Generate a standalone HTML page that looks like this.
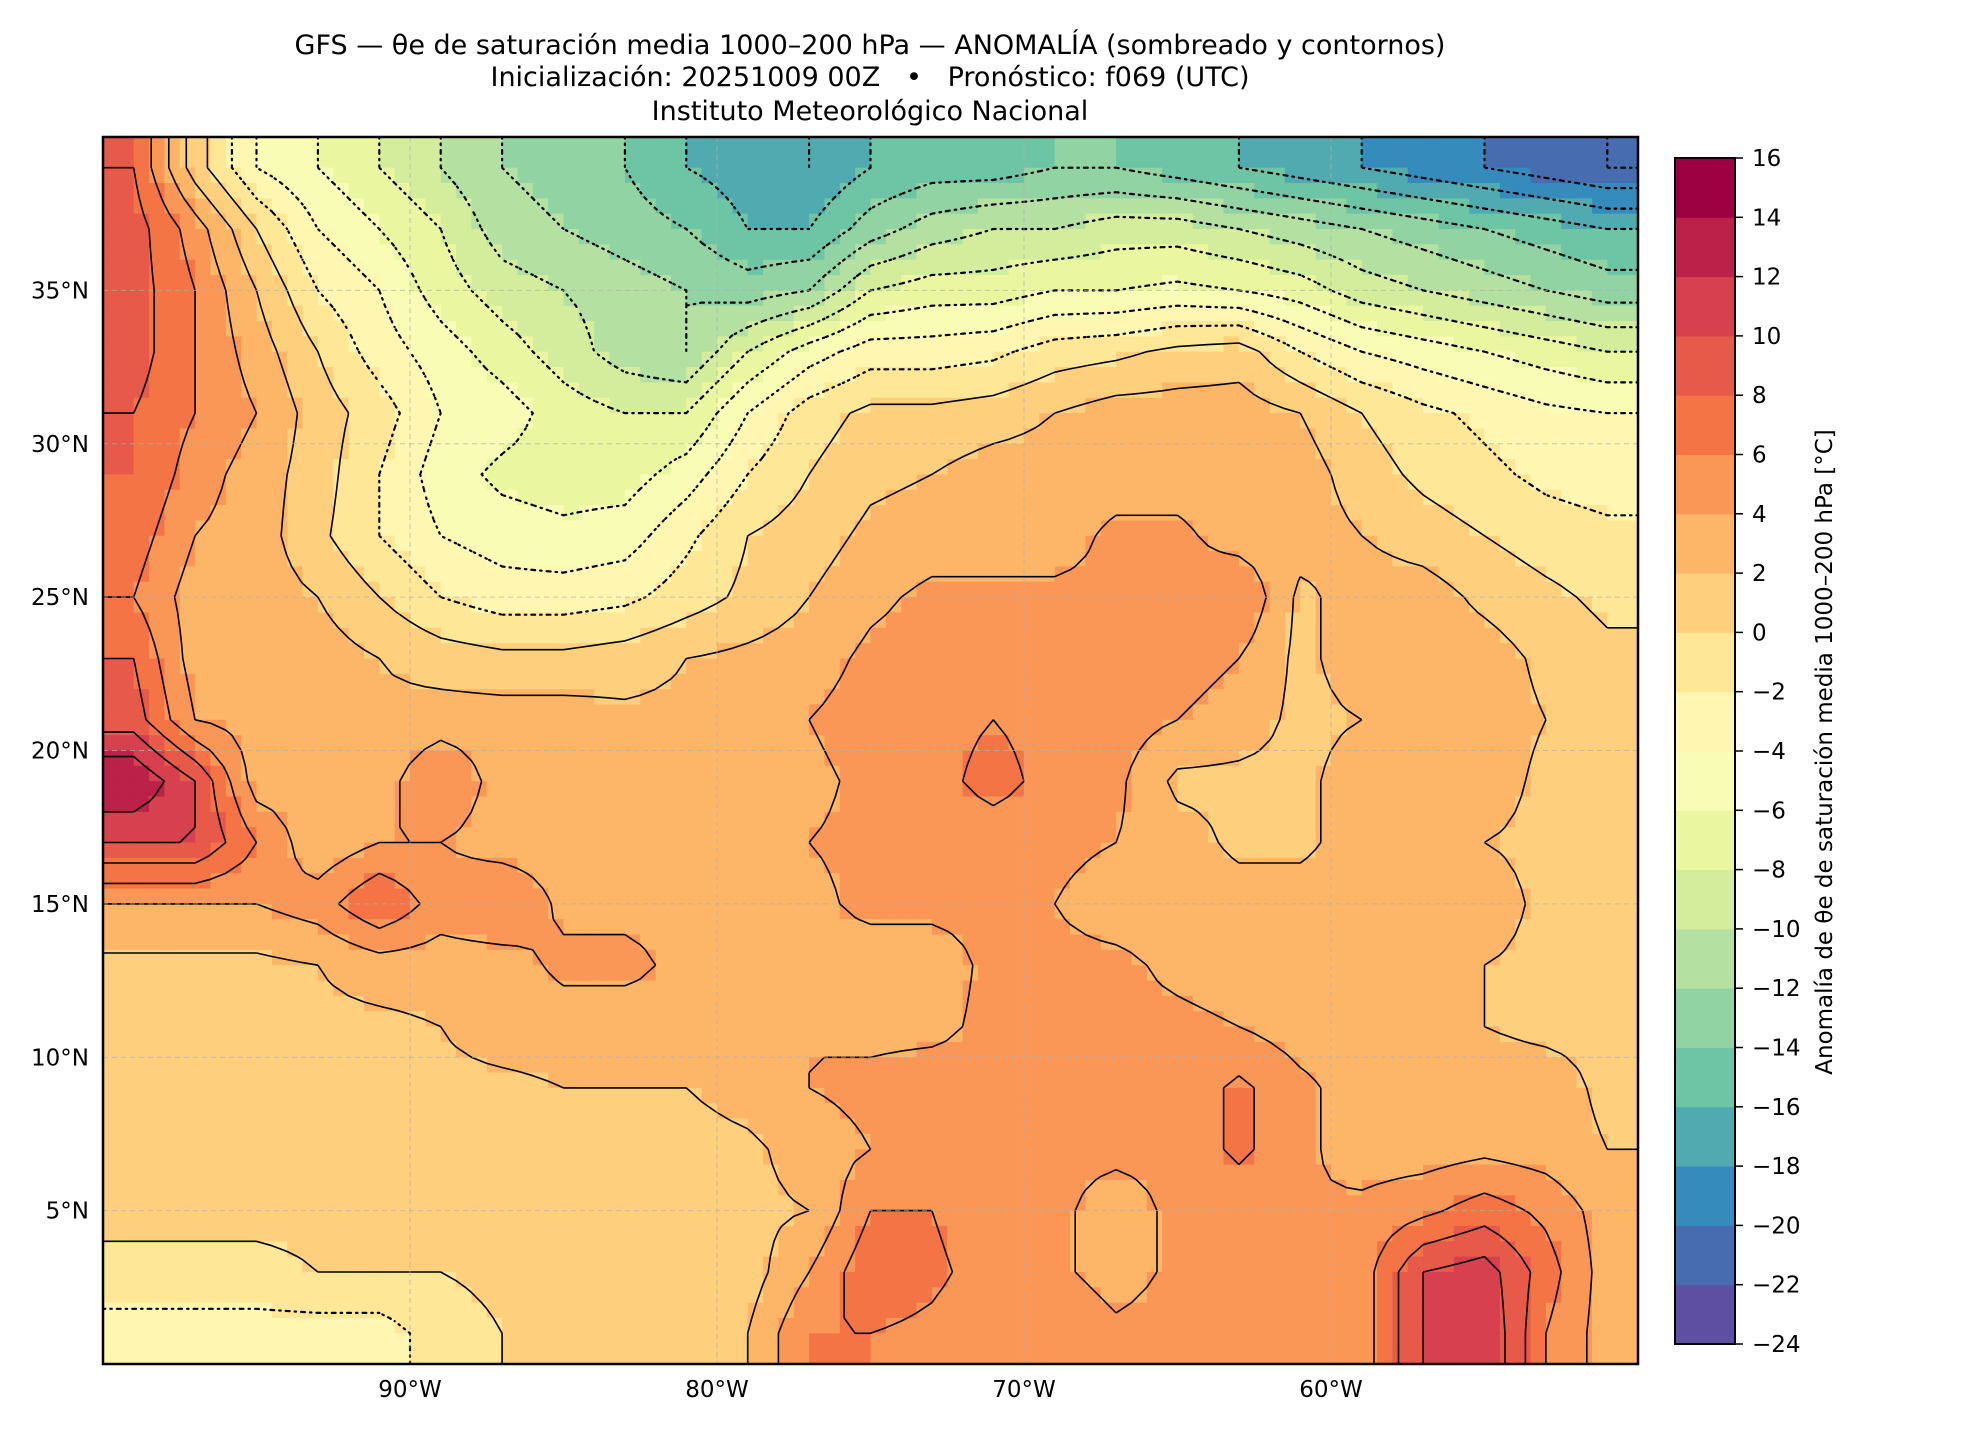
<!DOCTYPE html>
<html><head><meta charset="utf-8">
<style>
html,body{margin:0;padding:0;background:#fff;}
svg{display:block;font-family:"DejaVu Sans","Liberation Sans",sans-serif;}
</style></head>
<body>
<svg id="chart" width="1980" height="1440" viewBox="0 0 1980 1440" xmlns="http://www.w3.org/2000/svg">
  <defs><clipPath id="mapclip"><rect x="103" y="137" width="1535" height="1227"/></clipPath></defs>
  <g font-size="27" text-anchor="middle" fill="#000">
    <text x="870" y="54">GFS — θe de saturación media 1000–200 hPa — ANOMALÍA (sombreado y contornos)</text>
    <text x="870" y="86">Inicialización: 20251009 00Z &#160; • &#160; Pronóstico: f069 (UTC)</text>
    <text x="870" y="120">Instituto Meteorológico Nacional</text>
  </g>
  <g id="field"></g>
  <g id="contours" clip-path="url(#mapclip)"></g>
  <g id="grid"></g>
  <rect x="103" y="137" width="1535" height="1227" fill="none" stroke="#000" stroke-width="2.5"/>
  <g id="axes" font-size="23" fill="#000"></g>
  <g id="cbar"></g>
  <text x="0" y="0" transform="translate(1832,752) rotate(-90)" text-anchor="middle" font-size="23">Anomalía de θe de saturación media 1000–200 hPa [°C]</text>
</svg>
<script>
// ---- data (2° grid, cell centres) ----
const lons = [-99,-97,-95,-93,-91,-89,-87,-85,-83,-81,-79,-77,-75,-73,-71,-69,-67,-65,-63,-61,-59,-57,-55,-53,-51];
const lats = [39,37,35,33,31,29,27,25,23,21,19,17,15,13,11,9,7,5,3,1];
const row39 = [8,1,-4,-6,-8,-10,-12,-13,-14,-16,-17,-18,-16,-15,-15,-14,-14,-15,-16,-17,-18,-19,-20,-21,-22];
const row37 = [9,5,0,-4,-6,-8,-11,-12,-13,-14,-16,-16,-13,-11,-10,-10,-9,-9,-10,-11,-12,-13,-14,-15,-16];
const row35 = [9,6,2,-2,-4,-7,-9,-10,-11,-12,-13,-12,-8,-7,-7,-6,-6,-5.5,-6,-7,-9,-10,-11,-12,-13];
const row33 = [9,6,3,0,-3,-5,-7,-9,-11,-12,-8,-5,-3,-3,-2.5,-1,-0.5,0.5,1,-2,-4,-5,-6,-7,-8];
const row31 = [8,6,4,1,-1,-4,-5,-7,-8,-8,-4,-1,0.5,0.5,1,2,3,3,3,2,0,-1.5,-2.5,-3.5,-4];
const row29 = [8,5,3,1,-2,-5,-6.5,-7,-7,-5,-2,0,1.5,2,3,3,3,3,3,3,1,-0.5,-1.5,-2.5,-3];
const row27 = [7,4,3,0.5,-2,-4,-5,-5.5,-5,-2.5,0,1,2.5,3,3,3,4.5,4.5,3,3,2,1,0,-1,-1.5];
const row25 = [6,3,3,2,0,-2,-3,-3,-2.5,-1,0.5,2,3.5,4.5,4.5,4.5,4.5,4.5,6,1.5,3,3,1.5,0.5,-0.5];
const row23 = [8,3,3,3,2,1,0.5,0.5,1,2,2.5,3,4.5,5,5,5,5,5,4,1.5,3,3,3,1.5,0.5];
const row21 = [9,4,3,3,2.5,3,3,3,2.5,2.5,3,4,5,5,6,5,5,4,3,1.5,2,3,3,2,1];
const row19 = [14,10,3,3,3,6,3,3,3,3,3,3.5,4.5,5,7,5,4.5,1.5,1.5,1.5,3,3,3,1.5,1];
const row17 = [10,10,6,2.5,4,4,3,3,3,3,3.5,4,4.5,4.5,4.5,4.5,4,3,1.5,1.5,3,3,2,1.5,1];
const row15 = [4,4,4,5,8,5,6,3.5,3.5,3.5,3.5,3.5,4.5,4.5,4.5,4,3,3,3,3,3,3,3,1.5,1.5];
const row13 = [1.5,1.5,1.5,2,3,3,3,4.5,4.5,3.5,3.5,3.5,3,3,4.5,4.5,4.5,3.5,3,3,3,3,2,1.5,1.5];
const row11 = [0.5,1,1,1.5,1.5,2,3,3,3,3.5,3.5,4,3.5,3.5,4.5,4.5,4.5,4.5,4,3,3,3,2,1.5,1.5];
const row09 = [0.5,1,1,1,1,1.5,1.5,2,2,2,3,4,4.5,5,4.5,4.5,4.5,4.5,6.5,4.5,3,3,3,3,1.5];
const row07 = [0.5,0.5,0.5,0.5,0.5,0.5,0.5,0.5,0.5,1,1.5,3,4,5.5,4.5,4.5,4.5,4.5,6.5,4.5,3,3,3.5,3,2];
const row05 = [0.5,0.5,0.5,0.5,0.5,0.5,0.5,0.5,0.5,0.5,1.5,2,6,6,4.5,4.5,3,4.5,4.5,4,4.5,5.5,7,5.5,3];
const row03 = [-0.5,-0.5,-0.5,0,0,0,0.5,0.5,0.5,0.5,1,4,7.5,6.5,5,4.5,3,4.5,6,5,5,10,11,7,3];
const row01 = [-3,-3,-3,-3,-3,-1,0,0.5,0.5,0.5,2,6,6,5.5,4.5,6,4.5,5,6,5,5,10,12,6,3];
const fieldRows = [row39,row37,row35,row33,row31,row29,row27,row25,row23,row21,row19,row17,row15,row13,row11,row09,row07,row05,row03,row01];
const levels = [-24,-22,-20,-18,-16,-14,-12,-10,-8,-6,-4,-2,0,2,4,6,8,10,12,14,16];
const lonTicks = [-90,-80,-70,-60];
const lonTickLabels = ["90°W","80°W","70°W","60°W"];
const latTicks = [5,10,15,20,25,30,35];
const latTickLabels = ["5°N","10°N","15°N","20°N","25°N","30°N","35°N"];

// ---- scales ----
const X0=103, X1=1638, Y0=137, Y1=1364, LON0=-100, LON1=-50, LAT0=0, LAT1=40;
const xOf = lon => X0 + (lon-LON0)/(LON1-LON0)*(X1-X0);
const yOf = lat => Y1 - (lat-LAT0)/(LAT1-LAT0)*(Y1-Y0);
const CB_TOP=158, CB_BOT=1344, CB_X=1675, CB_W=60;
const yCb = v => CB_BOT - (v-levels[0])/(levels[levels.length-1]-levels[0])*(CB_BOT-CB_TOP);

const spec = ["#9e0142","#d53e4f","#f46d43","#fdae61","#fee08b","#ffffbf","#e6f598","#abdda4","#66c2a5","#3288bd","#5e4fa2"];
function hex(c){return [parseInt(c.slice(1,3),16),parseInt(c.slice(3,5),16),parseInt(c.slice(5,7),16)];}
function spectralR(p){
  const q=(1-p)*(spec.length-1); const i=Math.min(Math.floor(q),spec.length-2); const f=q-i;
  const a=hex(spec[i]), b=hex(spec[i+1]);
  return "rgb("+a.map((v,j)=>Math.round(v+(b[j]-v)*f)).join(",")+")";
}
const nb = levels.length-1;
const binColor = k => spectralR(k/(nb-1));
function colorOf(v){
  let k=0; while(k<nb-1 && v>=levels[k+1]) k++;
  return binColor(k);
}
function sample(lon,lat){
  let fx=(lon-lons[0])/(lons[1]-lons[0]); let fy=(lats[0]-lat)/(lats[0]-lats[1]);
  fx=Math.max(0,Math.min(lons.length-1,fx)); fy=Math.max(0,Math.min(lats.length-1,fy));
  const i=Math.min(Math.floor(fx),lons.length-2), j=Math.min(Math.floor(fy),lats.length-2);
  const tx=fx-i, ty=fy-j;
  const a=fieldRows[j][i], b=fieldRows[j][i+1], c=fieldRows[j+1][i], d=fieldRows[j+1][i+1];
  return (a*(1-tx)+b*tx)*(1-ty)+(c*(1-tx)+d*tx)*ty;
}
const NS="http://www.w3.org/2000/svg";
const field=document.getElementById('field');
const step=0.5;
for(let lat=LAT1; lat>LAT0; lat-=step){
  for(let lon=LON0; lon<LON1; lon+=step){
    const v=sample(lon+step/2, lat-step/2);
    const r=document.createElementNS(NS,'rect');
    
    
    const x=xOf(lon), y=yOf(lat);
    r.setAttribute('x',x.toFixed(2)); r.setAttribute('y',y.toFixed(2));
    r.setAttribute('width',(xOf(lon+step)-x+0.6).toFixed(2));
    r.setAttribute('height',(yOf(lat-step)-y+0.6).toFixed(2));
    r.setAttribute('fill',colorOf(v));
    field.appendChild(r);
  }
}
// contours (marching squares on 0.5° nodes)
const cg=document.getElementById('contours');
const cs=0.5, NX=Math.round((LON1-LON0)/cs), NY=Math.round((LAT1-LAT0)/cs);
const nodes=[];
for(let j=0;j<=NY;j++){const r=[];for(let i=0;i<=NX;i++){r.push(sample(LON0+i*cs, LAT1-j*cs));}nodes.push(r);}
levels.forEach(lv0=>{
  if(lv0<=-24||lv0>=16) return;
  const lv=lv0+1e-4;
  let d="";
  for(let j=0;j<NY;j++)for(let i=0;i<NX;i++){
    const v=[nodes[j][i],nodes[j][i+1],nodes[j+1][i+1],nodes[j+1][i]];
    const P=[[i,j],[i+1,j],[i+1,j+1],[i,j+1]];
    const pts=[];
    for(let e=0;e<4;e++){
      const a=v[e], b=v[(e+1)%4];
      if((a<lv)!==(b<lv)){
        const t=(lv-a)/(b-a);
        const pa=P[e], pb=P[(e+1)%4];
        const gx=pa[0]+(pb[0]-pa[0])*t, gy=pa[1]+(pb[1]-pa[1])*t;
        pts.push([xOf(LON0+gx*cs), yOf(LAT1-gy*cs)]);
      }
    }
    for(let k=0;k+1<pts.length;k+=2){
      d+="M"+pts[k][0].toFixed(1)+" "+pts[k][1].toFixed(1)+"L"+pts[k+1][0].toFixed(1)+" "+pts[k+1][1].toFixed(1);
    }
  }
  if(!d) return;
  const p=document.createElementNS(NS,'path');
  
  
  p.setAttribute('d',d); p.setAttribute('fill','none'); p.setAttribute('stroke','#000');
  if(lv0<0){p.setAttribute('stroke-width','2.2'); p.setAttribute('stroke-dasharray','1.5,5'); p.setAttribute('stroke-linecap','round');}
  else {p.setAttribute('stroke-width','1.6');}
  cg.appendChild(p);
});
// graticule
const grid=document.getElementById('grid');
lonTicks.forEach(lon=>{
  const l=document.createElementNS(NS,'line');
  
  
  l.setAttribute('x1',xOf(lon)); l.setAttribute('x2',xOf(lon)); l.setAttribute('y1',Y0); l.setAttribute('y2',Y1);
  l.setAttribute('stroke','#b0b0b0'); l.setAttribute('stroke-width','1'); l.setAttribute('stroke-dasharray','5,4'); l.setAttribute('opacity','0.7');
  grid.appendChild(l);
});
latTicks.forEach(lat=>{
  const l=document.createElementNS(NS,'line');
  
  
  l.setAttribute('y1',yOf(lat)); l.setAttribute('y2',yOf(lat)); l.setAttribute('x1',X0); l.setAttribute('x2',X1);
  l.setAttribute('stroke','#b0b0b0'); l.setAttribute('stroke-width','1'); l.setAttribute('stroke-dasharray','5,4'); l.setAttribute('opacity','0.7');
  grid.appendChild(l);
});
// axis labels
const axes=document.getElementById('axes');
lonTicks.forEach((lon,i)=>{
  const t=document.createElementNS(NS,'text');
  
  
  t.setAttribute('x',xOf(lon)); t.setAttribute('y',1397); t.setAttribute('text-anchor','middle');
  t.textContent=lonTickLabels[i]; axes.appendChild(t);
});
latTicks.forEach((lat,i)=>{
  const t=document.createElementNS(NS,'text');
  
  
  t.setAttribute('x',89); t.setAttribute('y',yOf(lat)+8); t.setAttribute('text-anchor','end');
  t.textContent=latTickLabels[i]; axes.appendChild(t);
});
// colorbar
const cb=document.getElementById('cbar');
for(let k=0;k<nb;k++){
  const r=document.createElementNS(NS,'rect');
  
  
  const yt=yCb(levels[k+1]), yb=yCb(levels[k]);
  r.setAttribute('x',CB_X); r.setAttribute('y',yt.toFixed(2)); r.setAttribute('width',CB_W); r.setAttribute('height',(yb-yt+0.5).toFixed(2));
  r.setAttribute('fill',binColor(k)); cb.appendChild(r);
}
const fr=document.createElementNS(NS,'rect');


fr.setAttribute('x',CB_X); fr.setAttribute('y',CB_TOP); fr.setAttribute('width',CB_W); fr.setAttribute('height',CB_BOT-CB_TOP);
fr.setAttribute('fill','none'); fr.setAttribute('stroke','#000'); fr.setAttribute('stroke-width','2');
cb.appendChild(fr);
levels.forEach(v=>{
  const y=yCb(v);
  const l=document.createElementNS(NS,'line');
  
  
  l.setAttribute('x1',CB_X+CB_W); l.setAttribute('x2',CB_X+CB_W+8); l.setAttribute('y1',y); l.setAttribute('y2',y);
  l.setAttribute('stroke','#000'); l.setAttribute('stroke-width','1.5'); cb.appendChild(l);
  const t=document.createElementNS(NS,'text');
  
  
  t.setAttribute('x',CB_X+CB_W+17); t.setAttribute('y',y+8); t.setAttribute('font-size','23');
  t.textContent=(v<0?"\u2212"+(-v):String(v)); cb.appendChild(t);
});
</script>
</body></html>
